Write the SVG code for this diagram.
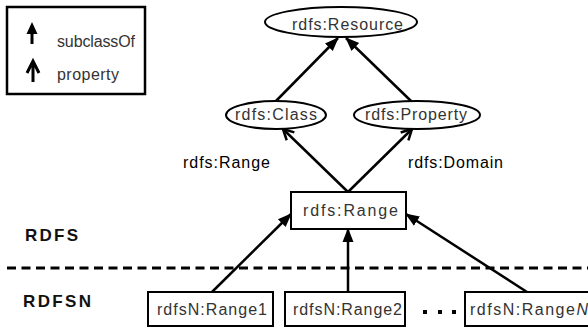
<svg xmlns="http://www.w3.org/2000/svg" width="588" height="330" viewBox="0 0 588 330">
  <defs>
    <marker id="solid" markerUnits="userSpaceOnUse" markerWidth="14" markerHeight="14" viewBox="0 0 14 14" refX="13" refY="7" orient="auto">
      <path d="M0,1.5 L14,7 L0,12.5 Z" fill="#000"/>
    </marker>
    <marker id="open" markerUnits="userSpaceOnUse" markerWidth="14" markerHeight="14" viewBox="0 0 14 14" refX="12" refY="7" orient="auto">
      <path d="M1.5,1.5 L12,7 L1.5,12.5" fill="none" stroke="#000" stroke-width="2.5"/>
    </marker>
  </defs>
  <style>
    .node { fill: #fff; stroke: #000; stroke-width: 2; }
    .lbl { font-family: "Liberation Sans", Arial, sans-serif; font-size: 16px; fill: #333; }
    .elbl { font-family: "Liberation Sans", Arial, sans-serif; font-size: 16px; fill: #000; }
    .layer { font-family: "Liberation Sans", Arial, sans-serif; font-size: 17px; font-weight: bold; fill: #111; }
    .edge { stroke: #000; stroke-width: 2.5; fill: none; }
    .sub { marker-end: url(#solid); }
    .prop { marker-end: url(#open); }
  </style>
  <rect width="588" height="330" fill="#fff"/>

  <!-- legend -->
  <g id="legend">
    <rect x="7" y="7" width="138" height="87" fill="#fff" stroke="#000" stroke-width="2.5"/>
    <line x1="32" y1="32" x2="32" y2="44" stroke="#000" stroke-width="3"/>
    <path d="M32,22 L26.5,34 L37.5,34 Z" fill="#000"/>
    <path d="M33,61 L33,82 M27,73 L33,61 L39,73" fill="none" stroke="#000" stroke-width="3"/>
    <text class="lbl" x="57" y="47" font-size="14" fill="#222" textLength="78" lengthAdjust="spacing">subclassOf</text>
    <text class="lbl" x="57" y="80" font-size="14" fill="#222" textLength="62" lengthAdjust="spacing">property</text>
  </g>

  <!-- layer separator and labels -->
  <g id="layers">
    <line x1="7" y1="268" x2="588" y2="268" stroke="#000" stroke-width="3" stroke-dasharray="9 5.5"/>
    <text class="layer" x="25" y="241" textLength="53" lengthAdjust="spacing">RDFS</text>
    <text class="layer" x="23" y="307" textLength="68" lengthAdjust="spacing">RDFSN</text>
  </g>

  <!-- connectors -->
  <g id="connectors">
    <line class="edge sub" x1="276" y1="101" x2="338" y2="38"/>
    <line class="edge sub" x1="411" y1="101" x2="346" y2="38"/>
    <line class="edge prop" x1="348" y1="192" x2="283" y2="129"/>
    <line class="edge prop" x1="348" y1="192" x2="412" y2="129"/>
    <line class="edge sub" x1="212" y1="292" x2="291" y2="214"/>
    <line class="edge sub" x1="348" y1="292" x2="348" y2="229"/>
    <line class="edge sub" x1="527" y1="292" x2="406" y2="214"/>
    <text class="elbl" x="183" y="168" textLength="87" lengthAdjust="spacing">rdfs:Range</text>
    <text class="elbl" x="408" y="168" textLength="95" lengthAdjust="spacing">rdfs:Domain</text>
  </g>

  <g id="resource">
    <ellipse class="node" cx="341" cy="22" rx="76" ry="15"/>
    <text class="lbl" x="292" y="30" textLength="111" lengthAdjust="spacing">rdfs:Resource</text>
  </g>
  <g id="class">
    <ellipse class="node" cx="276" cy="115" rx="50" ry="14"/>
    <text class="lbl" x="235" y="120" textLength="82" lengthAdjust="spacing">rdfs:Class</text>
  </g>
  <g id="property">
    <ellipse class="node" cx="417" cy="115" rx="63" ry="14"/>
    <text class="lbl" x="365" y="120" textLength="102" lengthAdjust="spacing">rdfs:Property</text>
  </g>
  <g id="range">
    <rect class="node" x="291" y="192" width="115" height="37"/>
    <text class="lbl" x="303" y="216" textLength="95" lengthAdjust="spacing">rdfs:Range</text>
  </g>
  <g id="range1">
    <rect class="node" x="148" y="292" width="125" height="34"/>
    <text class="lbl" x="157" y="315" textLength="110" lengthAdjust="spacing">rdfsN:Range1</text>
  </g>
  <g id="range2">
    <rect class="node" x="285" y="292" width="120" height="34"/>
    <text class="lbl" x="293" y="315" textLength="109" lengthAdjust="spacing">rdfsN:Range2</text>
  </g>
  <g id="ellipsis">
    <rect x="423" y="310" width="4" height="4" fill="#000"/>
    <rect x="438" y="310" width="4" height="4" fill="#000"/>
    <rect x="452" y="310" width="4" height="4" fill="#000"/>
  </g>
  <g id="rangeN">
    <rect class="node" x="465" y="292" width="125" height="34"/>
    <text class="lbl" x="470" y="315" textLength="118" lengthAdjust="spacing">rdfsN:Range<tspan font-style="italic">N</tspan></text>
  </g>
</svg>
